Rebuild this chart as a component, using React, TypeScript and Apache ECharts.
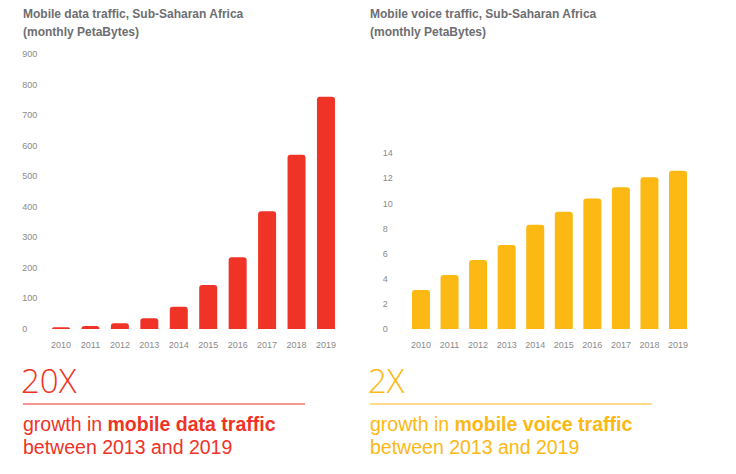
import React, { useEffect, useRef } from "react";
import * as echarts from "echarts";

const years = ["2010", "2011", "2012", "2013", "2014", "2015", "2016", "2017", "2018", "2019"];
const dataTraffic = [6, 10, 19, 35, 73, 144, 235, 385, 570, 760];
const voiceTraffic = [3.1, 4.3, 5.5, 6.7, 8.3, 9.35, 10.4, 11.3, 12.1, 12.6];
const dataTicks = { min: 0, max: 900, interval: 100 };
const voiceTicks = { min: 0, max: 14, interval: 2 };

const RED = "#ef3326";
const YELLOW = "#fcb813";
const GREY = "#6d6e71";
const FONT = "'Liberation Sans', Arial, sans-serif";

export default function App() {
  const ref = useRef<HTMLDivElement>(null);
  useEffect(() => {
    if (!ref.current) return;
    const chart = echarts.init(ref.current, undefined, { renderer: "svg" });
    const axisLabel = { color: "#8a8a8a", fontSize: 9, fontFamily: FONT };
    const yAxisCommon = {
      type: "value" as const,
      axisLine: { show: false },
      axisTick: { show: false },
      splitLine: { show: false },
      axisLabel: { ...axisLabel, align: "left" as const, margin: 24 },
    };
    const xAxisCommon = {
      type: "category" as const,
      data: years,
      axisLine: { show: false },
      axisTick: { show: false },
      axisLabel: { ...axisLabel, margin: 11 },
    };
    const titleStyle = (text: string, x: number, y: number) => ({
      type: "text",
      x,
      y,
      style: { text, fill: GREY, fontSize: 12, fontWeight: "bold", fontFamily: FONT, verticalAlign: "top", align: "left" },
    });
    const bigText = (text: string, x: number, color: string) => ({
      type: "text",
      x,
      y: 364,
      style: { text, fill: color, fontSize: 33, fontWeight: 300, fontFamily: `'Open Sans', ${FONT}`, verticalAlign: "top", align: "left" },
    });
    const growth = (kind: string, x: number, color: string) => ({
      type: "text",
      x,
      y: 412,
      style: {
        text: `{r|growth in }{b|mobile ${kind} traffic}\n{r|between 2013 and 2019}`,
        fill: color,
        verticalAlign: "top",
        align: "left",
        rich: {
          r: { fill: color, fontSize: 19.5, fontFamily: FONT, lineHeight: 23.5 },
          b: { fill: color, fontSize: 19.5, fontFamily: FONT, fontWeight: "bold", lineHeight: 23.5 },
        },
      },
    });
    chart.setOption({
      animation: false,
      grid: [
        { left: 46.3, top: 54, width: 294.4, height: 275 },
        { left: 406.7, top: 153.3, width: 285.6, height: 175.7 },
      ],
      xAxis: [
        { ...xAxisCommon, gridIndex: 0 },
        { ...xAxisCommon, gridIndex: 1 },
      ],
      yAxis: [
        { ...yAxisCommon, gridIndex: 0, ...dataTicks },
        { ...yAxisCommon, gridIndex: 1, ...voiceTicks },
      ],
      series: [
        {
          type: "bar",
          xAxisIndex: 0,
          yAxisIndex: 0,
          data: dataTraffic,
          barWidth: 18,
          itemStyle: { color: RED, borderRadius: [3, 3, 0, 0] },
        },
        {
          type: "bar",
          xAxisIndex: 1,
          yAxisIndex: 1,
          data: voiceTraffic,
          barWidth: 18,
          itemStyle: { color: YELLOW, borderRadius: [3, 3, 0, 0] },
        },
      ],
      graphic: [
        titleStyle("Mobile data traffic, Sub-Saharan Africa", 23, 8),
        titleStyle("(monthly PetaBytes)", 23, 26),
        titleStyle("Mobile voice traffic, Sub-Saharan Africa", 370, 8),
        titleStyle("(monthly PetaBytes)", 370, 26),
        bigText("20X", 21, RED),
        bigText("2X", 368, YELLOW),
        { type: "line", shape: { x1: 23, y1: 404, x2: 305, y2: 404 }, style: { stroke: RED, lineWidth: 1.2 } },
        { type: "line", shape: { x1: 370, y1: 404, x2: 652, y2: 404 }, style: { stroke: YELLOW, lineWidth: 1.2 } },
        growth("data", 23, RED),
        growth("voice", 370, YELLOW),
      ],
    });
    return () => chart.dispose();
  }, []);
  return (
    <div
      ref={ref}
      style={{ position: "fixed", left: 0, top: 0, width: 736, height: 474, background: "#fff" }}
    />
  );
}
